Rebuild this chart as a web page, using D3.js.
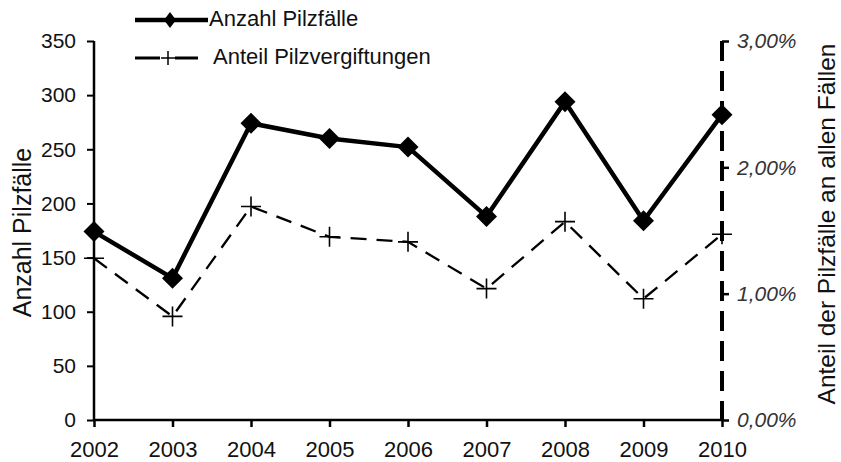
<!DOCTYPE html>
<html><head><meta charset="utf-8">
<script src="https://cdn.jsdelivr.net/npm/d3@7"></script>
<style>body{margin:0;background:#fff;}svg{display:block;font-family:"Liberation Sans",Arial,sans-serif;}</style>
</head><body><div id="chart"></div>
<script>
const years = ["2002","2003","2004","2005","2006","2007","2008","2009","2010"];
const anzahl = [174, 131, 274, 260, 252, 188, 294, 184, 282];
const anteil = [1.28, 0.82, 1.69, 1.45, 1.41, 1.04, 1.57, 0.96, 1.47];
const leftTicks = [0, 50, 100, 150, 200, 250, 300, 350];
const rightTicks = [0, 1, 2, 3];
const seriesNames = ["Anzahl Pilzfälle", "Anteil Pilzvergiftungen"];
const leftTitle = "Anzahl Pilzfälle";
const rightTitle = "Anteil der Pilzfälle an allen Fällen";

const W = 841, H = 462;
const m = {left: 94, right: 119, top: 41, bottom: 42};
const svg = d3.select("#chart").append("svg").attr("width", W).attr("height", H);
const x = d3.scalePoint().domain(years).range([m.left, W - m.right]);
const yL = d3.scaleLinear().domain([0, 350]).range([H - m.bottom, m.top]);
const yR = d3.scaleLinear().domain([0, 3]).range([H - m.bottom, m.top]);

// Left axis
const gL = svg.append("g").attr("transform", `translate(${m.left},0)`)
  .call(d3.axisLeft(yL).tickValues(leftTicks).tickSize(7).tickPadding(11));
gL.select(".domain").attr("stroke-width", 2.5).attr("d", `M0,${yL(350)}V${yL(0)}`);
gL.selectAll(".tick line").attr("stroke-width", 2);
gL.selectAll("text").attr("font-size", 21).attr("fill", "#111");

// Bottom axis
const gB = svg.append("g").attr("transform", `translate(0,${H - m.bottom})`)
  .call(d3.axisBottom(x).tickSize(7).tickPadding(14));
gB.select(".domain").attr("stroke-width", 2.5).attr("d", `M${m.left},0H${W - m.right}`);
gB.selectAll(".tick line").attr("stroke-width", 2.5);
gB.selectAll("text").attr("font-size", 22).attr("fill", "#111");

// Right axis
const gR = svg.append("g").attr("transform", `translate(${W - m.right},0)`)
  .call(d3.axisRight(yR).tickValues(rightTicks).tickSize(7).tickPadding(8)
    .tickFormat(d => d3.format(".2f")(d).replace(".", ",") + "%"));
gR.select(".domain").attr("stroke-width", 4).attr("stroke-dasharray", "20,10")
  .attr("d", `M0,${yR(3)}V${yR(0)}`);
gR.selectAll(".tick line").attr("stroke-width", 2.5);
gR.selectAll("text").attr("font-size", 21).attr("font-style", "italic").attr("fill", "#333");

// Titles
svg.append("text").attr("transform", `translate(31,${(yL(0)+yL(350))/2 + 2}) rotate(-90)`)
  .attr("text-anchor", "middle").attr("font-size", 25).attr("fill", "#111").text(leftTitle);
svg.append("text").attr("transform", `translate(835,224) rotate(-90)`)
  .attr("text-anchor", "middle").attr("font-size", 24.5).attr("fill", "#111").text(rightTitle);

const diamond = (sx, sy) => `M0,${-sy}L${sx},0L0,${sy}L${-sx},0Z`;
const plus = (s) => `M${-s},0H${s}M0,${-s}V${s}`;

// Anteil line
svg.append("path").datum(anteil)
  .attr("d", d3.line().x((d, i) => x(years[i])).y(d => yR(d)))
  .attr("fill", "none").attr("stroke", "#000").attr("stroke-width", 2.3).attr("stroke-dasharray", "16,10");
svg.selectAll(".pl").data(anteil).enter().append("path")
  .attr("transform", (d, i) => `translate(${x(years[i])},${yR(d)})`)
  .attr("d", plus(10)).attr("stroke", "#000").attr("stroke-width", 1.6);

// Anzahl line
svg.append("path").datum(anzahl)
  .attr("d", d3.line().x((d, i) => x(years[i])).y(d => yL(d)))
  .attr("fill", "none").attr("stroke", "#000").attr("stroke-width", 4.5).attr("stroke-linejoin", "round");
svg.selectAll(".dm").data(anzahl).enter().append("path")
  .attr("transform", (d, i) => `translate(${x(years[i])},${yL(d)})`)
  .attr("d", diamond(10.5, 10.5)).attr("fill", "#000");

// Legend
const lg = svg.append("g");
lg.append("path").attr("d", "M135,20H208").attr("stroke", "#000").attr("stroke-width", 4.5);
lg.append("path").attr("transform", "translate(170,20)").attr("d", diamond(6, 8)).attr("fill", "#000");
lg.append("text").attr("x", 209).attr("y", 26).attr("font-size", 22).attr("fill", "#111").text(seriesNames[0]);
lg.append("path").attr("d", "M135,58H160M175,58H198").attr("stroke", "#000").attr("stroke-width", 3);
lg.append("path").attr("transform", "translate(168,58)").attr("d", plus(7)).attr("stroke", "#000").attr("stroke-width", 1.5);
lg.append("text").attr("x", 213).attr("y", 64).attr("font-size", 22).attr("fill", "#111").text(seriesNames[1]);
</script></body></html>
